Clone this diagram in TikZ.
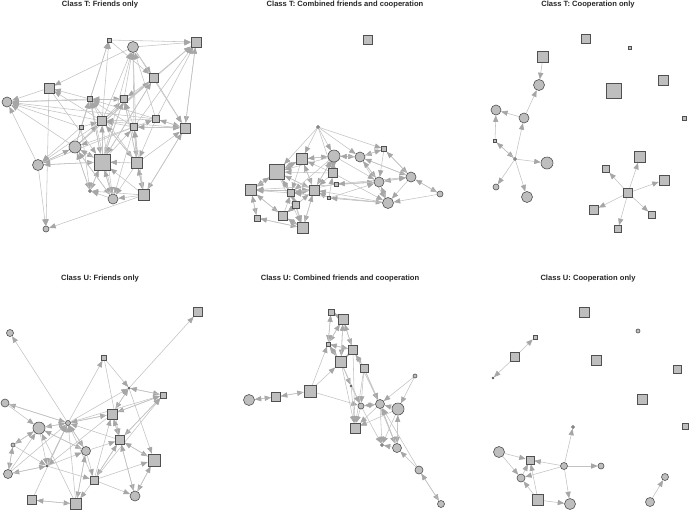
\documentclass[tikz,border=0pt]{standalone}
\usepackage{fontspec}
\setmainfont{Liberation Sans}
\usetikzlibrary{arrows.meta, backgrounds}
\definecolor{nodefill}{HTML}{BEBEBE}
\definecolor{nodeedge}{HTML}{505050}
\definecolor{edgegray}{HTML}{C2C2C2}
\definecolor{tipgray}{HTML}{A6A6A6}
\tikzset{%
	sqr/.style={draw=nodeedge, fill=nodefill, rectangle, inner sep=0pt, minimum size=#1pt, line width=0.6pt},
	crc/.style={draw=nodeedge, fill=nodefill, circle, inner sep=0pt, minimum size=#1pt, line width=0.6pt},
	lnk/.style={draw=edgegray, line width=0.55pt, -{Triangle[length=6.5pt,width=5.2pt,color=tipgray]}},
	title/.style={font=\bfseries\fontsize{7.6}{9}\selectfont, text=black!85}
}
\begin{document}
\begin{tikzpicture}[x=1pt, y=-1pt]
	\useasboundingbox (0,0) rectangle (690,512);

	% titles
	\node[title] (h1) at (100,5)   {Class T: Friends only};
	\node[title] (h2) at (345,5)   {Class T: Combined friends and cooperation};
	\node[title] (h3) at (588,5)   {Class T: Cooperation only};
	\node[title] (h4) at (100,279) {Class U: Friends only};
	\node[title] (h5) at (340,279) {Class U: Combined friends and cooperation};
	\node[title] (h6) at (588,279) {Class U: Cooperation only};

	% class T, friends
	\node[sqr=4]  (t1)  at (109,40)  {};
	\node[crc=11] (t2)  at (133,47)  {};
	\node[sqr=10] (t3)  at (196,42)  {};
	\node[sqr=9]  (t4)  at (154,78)  {};
	\node[sqr=10] (t5)  at (49,88)   {};
	\node[crc=10] (t6)  at (7,102)   {};
	\node[sqr=5]  (t7)  at (90,99)   {};
	\node[sqr=7]  (t8)  at (124,99)  {};
	\node[sqr=9]  (t9)  at (102,121) {};
	\node[sqr=7]  (t10) at (156,119) {};
	\node[sqr=4]  (t11) at (81,127)  {};
	\node[sqr=7]  (t12) at (134,127) {};
	\node[sqr=10] (t13) at (185,128) {};
	\node[crc=12] (t14) at (75,147)  {};
	\node[crc=11] (t15) at (38,165)  {};
	\node[sqr=16] (t16) at (102,162) {};
	\node[sqr=11] (t17) at (137,163) {};
	\node[crc=3]  (t18) at (90,191)  {};
	\node[crc=10] (t19) at (113,199) {};
	\node[sqr=11] (t20) at (144,195) {};
	\node[crc=6]  (t21) at (46,229)  {};

	% class T, combined
	\node[sqr=9]  (c1)  at (368,40)  {};
	\node[crc=3]  (c2)  at (318,127) {};
	\node[sqr=5]  (c3)  at (384,149) {};
	\node[sqr=11] (c4)  at (302,159) {};
	\node[crc=12] (c5)  at (334,156) {};
	\node[crc=10] (c6)  at (360,157) {};
	\node[sqr=15] (c7)  at (277,172) {};
	\node[sqr=9]  (c8)  at (333,173) {};
	\node[sqr=4]  (c9)  at (336,184) {};
	\node[crc=10] (c10) at (411,177) {};
	\node[crc=10] (c11) at (379,182) {};
	\node[sqr=11] (c12) at (251,190) {};
	\node[sqr=7]  (c13) at (291,193) {};
	\node[sqr=10] (c14) at (314,190) {};
	\node[sqr=3]  (c15) at (329,198) {};
	\node[crc=6]  (c16) at (440,194) {};
	\node[crc=11] (c17) at (388,203) {};
	\node[sqr=7]  (c18) at (296,205) {};
	\node[sqr=9]  (c19) at (283,216) {};
	\node[sqr=6]  (c20) at (257,218) {};
	\node[sqr=11] (c21) at (303,228) {};

	% class T, cooperation
	\node[sqr=9]  (p1)  at (586,39)  {};
	\node[sqr=3]  (p2)  at (630,48)  {};
	\node[sqr=11] (p3)  at (543,57)  {};
	\node[crc=11] (p4)  at (539,85)  {};
	\node[sqr=10] (p5)  at (663,80)  {};
	\node[sqr=15] (p6)  at (614,91)  {};
	\node[crc=10] (p7)  at (496,110) {};
	\node[crc=10] (p8)  at (524,118) {};
	\node[sqr=4]  (p9)  at (684,118) {};
	\node[sqr=3]  (p10) at (495,141) {};
	\node[crc=3]  (p11) at (515,159) {};
	\node[crc=12] (p12) at (547,163) {};
	\node[sqr=11] (p13) at (640,157) {};
	\node[sqr=7]  (p14) at (606,169) {};
	\node[sqr=10] (p15) at (664,180) {};
	\node[sqr=9]  (p16) at (628,193) {};
	\node[crc=6]  (p17) at (496,187) {};
	\node[crc=11] (p18) at (527,197) {};
	\node[sqr=9]  (p19) at (594,210) {};
	\node[sqr=7]  (p20) at (652,215) {};
	\node[sqr=7]  (p21) at (618,229) {};

	% class U, friends
	\node[crc=7]  (u1)  at (10,333)  {};
	\node[sqr=9]  (u2)  at (198,312) {};
	\node[sqr=5]  (u3)  at (104,358) {};
	\node[crc=8]  (u4)  at (5,403)   {};
	\node[crc=2]  (u5)  at (129,388) {};
	\node[sqr=6]  (u6)  at (163,395) {};
	\node[sqr=10] (u7)  at (112,414) {};
	\node[crc=12] (u8)  at (39,428)  {};
	\node[crc=5]  (u9)  at (68,423)  {};
	\node[sqr=9]  (u10) at (120,440) {};
	\node[crc=4]  (u11) at (13,445)  {};
	\node[crc=9]  (u12) at (86,451)  {};
	\node[sqr=12] (u13) at (154,460) {};
	\node[crc=2]  (u14) at (47,466)  {};
	\node[crc=9]  (u15) at (8,474)   {};
	\node[sqr=8]  (u16) at (94,480)  {};
	\node[crc=10] (u17) at (135,496) {};
	\node[sqr=9]  (u18) at (32,500)  {};
	\node[sqr=11] (u19) at (76,504)  {};

	% class U, combined
	\node[sqr=6]  (v1)  at (331,312) {};
	\node[sqr=10] (v2)  at (343,319) {};
	\node[sqr=4]  (v3)  at (328,344) {};
	\node[sqr=9]  (v4)  at (353,350) {};
	\node[sqr=11] (v5)  at (341,362) {};
	\node[sqr=8]  (v6)  at (364,368) {};
	\node[crc=4]  (v7)  at (415,376) {};
	\node[crc=2]  (v8)  at (351,386) {};
	\node[sqr=12] (v9)  at (310,391) {};
	\node[sqr=9]  (v10) at (276,397) {};
	\node[crc=11] (v11) at (249,400) {};
	\node[crc=6]  (v12) at (361,406) {};
	\node[crc=9]  (v13) at (380,404) {};
	\node[crc=12] (v14) at (398,409) {};
	\node[sqr=10] (v15) at (355,428) {};
	\node[crc=3]  (v16) at (382,445) {};
	\node[crc=9]  (v17) at (397,448) {};
	\node[crc=8]  (v18) at (419,470) {};
	\node[crc=7]  (v19) at (441,504) {};

	% class U, cooperation
	\node[sqr=10] (w1)  at (584,312) {};
	\node[crc=4]  (w2)  at (638,331) {};
	\node[sqr=4]  (w3)  at (535,337) {};
	\node[sqr=9]  (w4)  at (515,357) {};
	\node[sqr=10] (w5)  at (596,360) {};
	\node[crc=2]  (w6)  at (493,378) {};
	\node[sqr=8]  (w7)  at (677,369) {};
	\node[sqr=10] (w8)  at (642,399) {};
	\node[crc=3]  (w9)  at (573,427) {};
	\node[sqr=6]  (w10) at (685,426) {};
	\node[crc=11] (w11) at (499,452) {};
	\node[sqr=8]  (w12) at (530,460) {};
	\node[crc=7]  (w13) at (564,466) {};
	\node[crc=6]  (w14) at (601,466) {};
	\node[crc=8]  (w15) at (521,478) {};
	\node[crc=7]  (w16) at (665,477) {};
	\node[sqr=11] (w17) at (538,500) {};
	\node[crc=11] (w18) at (570,504) {};
	\node[crc=9]  (w19) at (650,502) {};

	\begin{pgfonlayer}{background}
	\path[lnk] (t1) edge (t3) edge (t4);
	\path[lnk] (t2) edge (t3) edge (t5) edge (t4) edge (t13);
	\path[lnk] (t3) edge (t13);
	\path[lnk] (t4) edge (t13) edge (t8) edge (t16);
	\path[lnk] (t5) edge (t6) edge (t21) edge (t16);
	\path[lnk] (t7) edge (t6) edge (t5) edge (t1) edge (t8) edge (t16) edge (t19);
	\path[lnk] (t8) edge (t6) edge (t2) edge (t7) edge (t20) edge (t16);
	\path[lnk] (t9) edge (t6) edge (t1) edge (t2) edge (t3) edge (t4) edge (t8) edge (t13) edge (t15) edge (t17) edge (t19) edge (t5) edge (t7);
	\path[lnk] (t10) edge (t6) edge (t13) edge (t3) edge (t9) edge (t17) edge (t7) edge (t2);
	\path[lnk] (t11) edge (t15) edge (t7) edge (t18) edge (t9) edge (t6);
	\path[lnk] (t12) edge (t2) edge (t8) edge (t13) edge (t14) edge (t15) edge (t17) edge (t19) edge (t7) edge (t9) edge (t10) edge (t3);
	\path[lnk] (t13) edge (t20) edge (t10) edge (t12) edge (t3);
	\path[lnk] (t14) edge (t1) edge (t4) edge (t6) edge (t7) edge (t15) edge (t18) edge (t9) edge (t3) edge (t16) edge (t19);
	\path[lnk] (t15) edge (t6) edge (t21) edge (t14) edge (t16);
	\path[lnk] (t16) edge (t2) edge (t4) edge (t7) edge (t15) edge (t18) edge (t19) edge (t14) edge (t9) edge (t12) edge (t8);
	\path[lnk] (t17) edge (t2) edge (t7) edge (t19) edge (t20) edge (t13) edge (t16) edge (t9) edge (t12);
	\path[lnk] (t18) edge (t14) edge (t16);
	\path[lnk] (t19) edge (t18) edge (t16) edge (t14);
	\path[lnk] (t20) edge (t21) edge (t19) edge (t13) edge (t8) edge (t18) edge (t16) edge (t17) edge (t12);

	\path[lnk] (c2) edge (c4) edge (c5) edge (c8) edge (c3) edge (c7) edge (c6);
	\path[lnk] (c3) edge (c11) edge (c10) edge (c6);
	\path[lnk] (c4) edge (c7) edge (c5) edge (c12) edge (c13) edge (c14);
	\path[lnk] (c5) edge (c4) edge (c6) edge (c8) edge (c7) edge (c14) edge (c13) edge (c11);
	\path[lnk] (c6) edge (c3) edge (c5) edge (c17) edge (c11) edge (c10);
	\path[lnk] (c7) edge (c12) edge (c4) edge (c13) edge (c21) edge (c14);
	\path[lnk] (c8) edge (c4) edge (c7) edge (c14) edge (c5) edge (c17);
	\path[lnk] (c9) edge (c10) edge (c11) edge (c13);
	\path[lnk] (c10) edge (c16) edge (c11) edge (c3) edge (c17) edge (c6);
	\path[lnk] (c11) edge (c17) edge (c10) edge (c6) edge (c12) edge (c9);
	\path[lnk] (c12) edge (c20) edge (c7) edge (c14) edge (c19);
	\path[lnk] (c13) edge (c21) edge (c12) edge (c7) edge (c14) edge (c18);
	\path[lnk] (c14) edge (c12) edge (c7) edge (c5) edge (c19) edge (c21) edge (c13) edge (c4);
	\path[lnk] (c15) edge (c17) edge (c11) edge (c14) edge (c8);
	\path[lnk] (c16) edge (c17) edge (c10);
	\path[lnk] (c17) edge (c13) edge (c11) edge (c15) edge (c14);
	\path[lnk] (c18) edge (c21) edge (c13) edge (c14) edge (c19);
	\path[lnk] (c19) edge (c21) edge (c12) edge (c13);
	\path[lnk] (c20) edge (c12) edge (c21);
	\path[lnk] (c21) edge (c20) edge (c19) edge (c14);

	\path[lnk] (p3) edge (p4);
	\path[lnk] (p8) edge (p4) edge (p7);
	\path[lnk] (p10) edge (p7) edge (p11);
	\path[lnk] (p11) edge (p10) edge (p8) edge (p12) edge (p17) edge (p18);
	\path[lnk] (p16) edge (p13) edge (p14) edge (p15) edge (p19) edge (p20) edge (p21);

	\path[lnk] (u9) edge (u1) edge (u3) edge (u4) edge (u5) edge (u6) edge (u7) edge (u12) edge (u14) edge (u8);
	\path[lnk] (u3) edge (u5) edge (u10);
	\path[lnk] (u5) edge (u2) edge (u6) edge (u13) edge (u7);
	\path[lnk] (u6) edge (u5) edge (u7) edge (u10);
	\path[lnk] (u4) edge (u8) edge (u9);
	\path[lnk] (u7) edge (u9) edge (u5) edge (u6) edge (u10) edge (u14);
	\path[lnk] (u8) edge (u9) edge (u11) edge (u14) edge (u12);
	\path[lnk] (u10) edge (u9) edge (u7) edge (u6) edge (u13) edge (u17) edge (u16);
	\path[lnk] (u11) edge (u15) edge (u14) edge (u8);
	\path[lnk] (u12) edge (u9) edge (u16) edge (u10) edge (u19) edge (u8);
	\path[lnk] (u13) edge (u17) edge (u10);
	\path[lnk] (u14) edge (u9) edge (u16) edge (u15) edge (u12);
	\path[lnk] (u15) edge (u11) edge (u9) edge (u8) edge (u14);
	\path[lnk] (u16) edge (u9) edge (u7) edge (u10) edge (u13) edge (u17) edge (u19) edge (u6);
	\path[lnk] (u17) edge (u13) edge (u10);
	\path[lnk] (u18) edge (u19) edge (u9);
	\path[lnk] (u19) edge (u18) edge (u9) edge (u8) edge (u12);

	\path[lnk] (v11) edge (v10);
	\path[lnk] (v10) edge (v11) edge (v9);
	\path[lnk] (v9) edge (v10) edge (v3) edge (v5) edge (v12);
	\path[lnk] (v1) edge (v2) edge (v3);
	\path[lnk] (v2) edge (v1) edge (v3) edge (v4) edge (v5);
	\path[lnk] (v3) edge (v1) edge (v2) edge (v5) edge (v4);
	\path[lnk] (v4) edge (v2) edge (v5) edge (v6) edge (v15) edge (v13) edge (v3);
	\path[lnk] (v5) edge (v4) edge (v3) edge (v8) edge (v12) edge (v15) edge (v2);
	\path[lnk] (v6) edge (v4) edge (v12) edge (v13) edge (v15) edge (v17);
	\path[lnk] (v7) edge (v13) edge (v14);
	\path[lnk] (v8) edge (v15) edge (v12);
	\path[lnk] (v12) edge (v15) edge (v16) edge (v13);
	\path[lnk] (v13) edge (v15) edge (v12) edge (v17) edge (v16);
	\path[lnk] (v14) edge (v13) edge (v17) edge (v16) edge (v15);
	\path[lnk] (v17) edge (v16) edge (v13) edge (v14);
	\path[lnk] (v18) edge (v17) edge (v19) edge (v13);
	\path[lnk] (v19) edge (v18);

	\path[lnk] (w4) edge (w3) edge (w6);
	\path[lnk] (w11) edge (w12) edge (w15);
	\path[lnk] (w15) edge (w12);
	\path[lnk] (w17) edge (w15) edge (w12) edge (w18);
	\path[lnk] (w13) edge (w12) edge (w9) edge (w14) edge (w18) edge (w15);
	\path[lnk] (w19) edge (w16);
	\end{pgfonlayer}
\end{tikzpicture}
\end{document}
